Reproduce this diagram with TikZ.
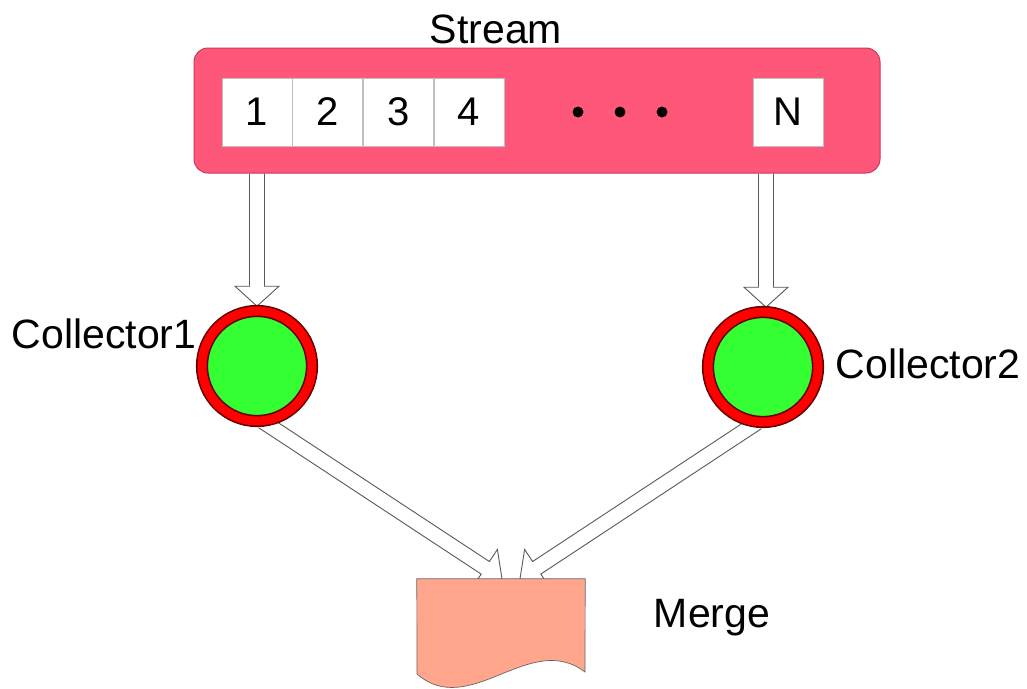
\documentclass[tikz,border=0pt]{standalone}
\usepackage{fontspec}
\setmainfont{Liberation Sans}
\usetikzlibrary{calc,positioning}
\definecolor{streampink}{RGB}{255,87,122}
\definecolor{streamedge}{RGB}{205,55,90}
\definecolor{collgreen}{RGB}{51,255,51}
\definecolor{mergesalmon}{RGB}{255,166,140}
\pgfdeclarelayer{background}
\pgfsetlayers{background,main}
\tikzset{
    streambox/.style = {draw=streamedge, line width=1pt, fill=streampink,
            rounded corners=14pt, minimum width=686pt, minimum height=125pt,
            inner sep=0pt},
    cell/.style      = {draw=black!25, line width=0.6pt, fill=white,
            minimum width=70pt, minimum height=68pt, inner sep=0pt,
            font=\fontsize{40}{48}\selectfont},
    collector/.style = {circle, fill=collgreen, draw=red!40!black, double=red,
            double distance=9pt, line width=1.6pt, minimum size=110pt,
            inner sep=0pt},
    mergeshape/.style = {draw=black!60, line width=0.7pt, fill=mergesalmon},
    hollow/.style    = {draw=black!65, line width=0.9pt, fill=white,
            line join=miter},
    lbl/.style       = {anchor=base, inner sep=0pt,
            font=\fontsize{41}{49}\selectfont},
    dotmark/.style   = {circle, fill=black, minimum size=11pt, inner sep=0pt},
}
% hollow block arrow from #1 to #2
\newcommand\hollowarrow[2]{%
    \coordinate (hb) at ($(#2)!20pt!(#1)$);
    \draw[hollow] ($(#1)!7.5pt!90:(#2)$) -- ($(hb)!7.5pt!90:(#2)$)
        -- ($(hb)!22pt!90:(#2)$) -- (#2) -- ($(hb)!22pt!-90:(#2)$)
        -- ($(hb)!7.5pt!-90:(#2)$) -- ($(#1)!7.5pt!-90:(#2)$);
}

\begin{document}
\begin{tikzpicture}[x=1pt, y=-1pt]
    \useasboundingbox (0,0) rectangle (1027,688);

    % Nodes
    \node[streambox] (stream) at (537,110.5) {};
    \node[lbl] (streamlbl) at (496,43) {Stream};
    \node[cell] (cell1) at (257,112) {1};
    \node[cell, right=0pt of cell1] (cell2) {2};
    \node[cell, right=0pt of cell2] (cell3) {3};
    \node[cell, right=0pt of cell3] (cell4) {4};
    \node[dotmark] (dot1) at (578,112) {};
    \node[dotmark] (dot2) at (620,112) {};
    \node[dotmark] (dot3) at (662,112) {};
    \node[cell] (cellN) at (788,112) {N};

    \node[collector] (c1) at (257,366) {};
    \node[collector] (c2) at (763,367) {};
    \node[lbl] (c1lbl) at (104,348) {Collector1};
    \node[lbl] (c2lbl) at (928,378) {Collector2};

    \node[minimum width=168pt, minimum height=96pt, inner sep=0pt] (merge) at (501,627) {};
    \draw[mergeshape] (merge.north west) -- (merge.north east) -- (585,672)
        .. controls (530,630) and (470,720) .. (417,674) -- cycle;
    \node[lbl] (mergelbl) at (712,627) {Merge};

    % Arrows
    \coordinate (s1) at (stream.south -| c1);
    \coordinate (s2) at ([xshift=3pt]stream.south -| c2);
    \coordinate (t1) at ([yshift=4pt]c1.north);
    \coordinate (t2) at ([xshift=3pt, yshift=4pt]c2.north);
    \coordinate (m1) at ([xshift=1pt]merge.north);
    \coordinate (m2) at ([xshift=19pt]merge.north);
    \begin{pgfonlayer}{background}
        \hollowarrow{s1}{t1}
        \hollowarrow{s2}{t2}
        \hollowarrow{c1.-84}{m1}
        \hollowarrow{c2.-96}{m2}
    \end{pgfonlayer}
\end{tikzpicture}
\end{document}
